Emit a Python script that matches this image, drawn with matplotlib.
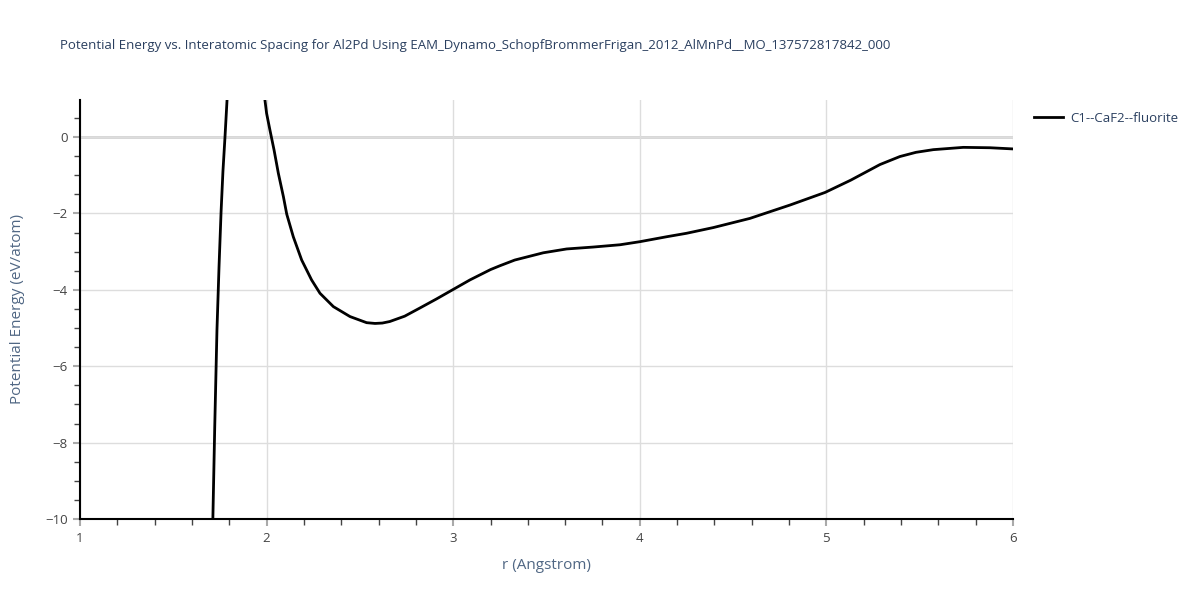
import matplotlib
matplotlib.use("Agg")
import matplotlib.pyplot as plt
from matplotlib.ticker import MultipleLocator, FuncFormatter

r_left = [1.712, 1.722, 1.734, 1.745, 1.756, 1.766, 1.777, 1.788]
e_left = [-10.0, -7.6, -5.05, -3.4, -1.96, -0.9, 0.0, 0.97]

r_right = [1.991, 2.0, 2.018, 2.040, 2.063, 2.090, 2.108, 2.143, 2.188, 2.241, 2.286,
           2.358, 2.447, 2.536, 2.581, 2.62, 2.66, 2.74, 2.82, 2.91, 3.0, 3.09, 3.2,
           3.25, 3.33, 3.483, 3.608, 3.75, 3.894, 4.0, 4.144, 4.25, 4.394, 4.59,
           4.805, 4.993, 5.13, 5.287, 5.394, 5.48, 5.573, 5.734, 5.877, 5.996]
e_right = [0.97, 0.62, 0.18, -0.34, -0.95, -1.56, -2.02, -2.61, -3.22, -3.74, -4.09,
           -4.44, -4.70, -4.86, -4.88, -4.87, -4.83, -4.69, -4.48, -4.24, -3.99, -3.74, -3.47,
           -3.37, -3.22, -3.03, -2.93, -2.88, -2.82, -2.74, -2.61, -2.52, -2.37, -2.13,
           -1.78, -1.45, -1.13, -0.72, -0.51, -0.40, -0.33, -0.27, -0.28, -0.31]

series_name = "C1--CaF2--fluorite"
title = "Potential Energy vs. Interatomic Spacing for Al2Pd Using EAM_Dynamo_SchopfBrommerFrigan_2012_AlMnPd__MO_137572817842_000"
xlabel = "r (Angstrom)"
ylabel = "Potential Energy (eV/atom)"

plt.rcParams["font.family"] = ["Open Sans", "DejaVu Sans"]
txt = "#2a3f5f"
fig = plt.figure(figsize=(12, 6), dpi=100)
ax = fig.add_axes([80/1200, 1-519/600, (1013-80)/1200, (519-100)/600])

r_all = r_left + [float("nan")] + r_right
e_all = e_left + [float("nan")] + e_right
ax.plot(r_all, e_all, color="black", lw=2, label=series_name, zorder=3,
        solid_joinstyle="round")

ax.set_xlim(1, 6)
ax.set_ylim(-10, 0.97)
ax.xaxis.set_major_locator(MultipleLocator(1))
ax.xaxis.set_minor_locator(MultipleLocator(0.2))
ax.yaxis.set_major_locator(MultipleLocator(2))
ax.yaxis.set_minor_locator(MultipleLocator(0.5))
ax.yaxis.set_major_formatter(FuncFormatter(lambda v, p: f"{v:.0f}".replace("-", "\u2212")))
ax.grid(True, which="major", color="#dddddd", lw=1, zorder=0)
ax.axhline(0, color="#d4d4d4", lw=2, zorder=1)
for s in ["top", "right"]:
    ax.spines[s].set_visible(False)
for s in ["left", "bottom"]:
    ax.spines[s].set_color("black")
    ax.spines[s].set_linewidth(1.5)
ax.tick_params(which="major", length=5, color="#aaaaaa", width=1.5, labelcolor="#444444", labelsize=9.5, pad=4)
ax.tick_params(which="minor", length=4, color="#444444", width=1)
ax.set_xlabel(xlabel, fontsize=11, color="#506784", labelpad=10)
ax.set_ylabel(ylabel, fontsize=11, color="#506784", labelpad=14)
fig.text(60/1200, 1-45/600, title, fontsize=9.5, color=txt, va="center", ha="left")
leg = ax.legend(loc="upper left", bbox_to_anchor=(1.01, 1.0), frameon=False,
                fontsize=9.5, labelcolor=txt, handlelength=2.2, handletextpad=0.5)
fig.savefig("out.png", dpi=100)
